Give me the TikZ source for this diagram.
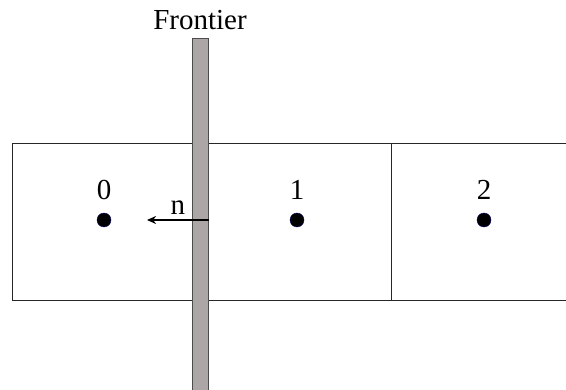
\documentclass[tikz,border=0pt]{standalone}
\usepackage{fontspec}
\setmainfont{Liberation Serif}
\usetikzlibrary{
    arrows.meta,
    positioning
}
\definecolor{bargray}{RGB}{172,166,166}

\begin{document}
\begin{tikzpicture}[
    x=1pt, y=1pt,
    font=\fontsize{29}{34}\selectfont,
    cell/.style={
        rectangle,
        draw=black!85,
        line width=1pt,
        minimum height=157pt,
        inner sep=0pt,
        anchor=north west
    },
    point/.style={
        circle,
        fill=black,
        draw=blue!40!black,
        line width=0.4pt,
        minimum size=14pt,
        inner sep=0pt
    },
    label/.style={
        inner sep=0pt
    },
    bar/.style={
        rectangle,
        fill=bargray,
        draw=black!70,
        line width=1pt,
        minimum width=16pt,
        minimum height=360pt,
        inner sep=0pt,
        anchor=north
    },
    arrow/.style={
        -{Stealth[length=9pt,width=8pt]},
        line width=2pt,
        draw=black
    }
]
\useasboundingbox (0,0) rectangle (566,389);
\clip (0,0) rectangle (566,389);

% =========================================================
% Cells
% =========================================================
\node[cell, minimum width=188pt] (cell0) at (12,246) {};
\node[cell, minimum width=191pt] (cell1) at (200,246) {};
\node[cell, minimum width=190pt] (cell2) at (391,246) {};

% =========================================================
% Cell centres and numbers
% =========================================================
\node[point] (p0) at (104,169) {};
\node[point] (p1) at (297,169) {};
\node[point] (p2) at (484,169) {};

\node[label] (n0) at (104,199) {0};
\node[label] (n1) at (297,199) {1};
\node[label] (n2) at (484,199) {2};

% =========================================================
% Frontier
% =========================================================
\node[bar] (front) at (200,351) {};
\node[label] (ftext) at (200,369) {Frontier};

% =========================================================
% Normal vector
% =========================================================
\coordinate (nstart) at (front.east |- p0);
\coordinate (nend) at (147,169);
\draw[arrow] (nstart) -- node[above=4pt, label] {n} (nend);

\end{tikzpicture}
\end{document}
